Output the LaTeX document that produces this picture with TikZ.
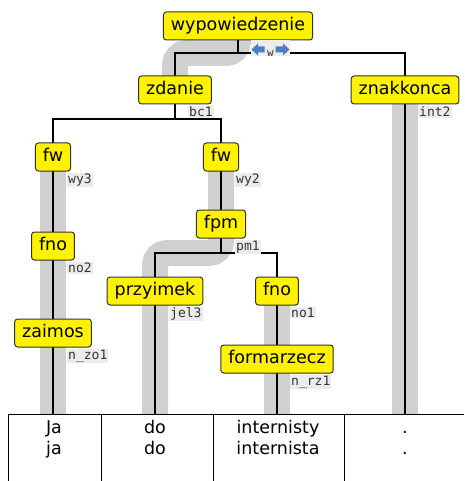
\documentclass[tikz,border=0pt]{standalone}
\usepackage{fontspec}
\setmainfont{DejaVu Sans}
\newfontfamily\labfont{DejaVu Sans Mono}
\usetikzlibrary{backgrounds}
\definecolor{band}{RGB}{208,208,208}
\definecolor{nodebd}{RGB}{50,50,50}
\definecolor{labbg}{RGB}{236,236,236}
\definecolor{labfg}{RGB}{51,51,51}
\definecolor{arrowblue}{RGB}{74,126,193}
\tikzset{
  tnode/.style={draw=nodebd, fill=yellow, rounded corners=3pt, line width=1pt,
    minimum height=28pt, inner xsep=7.5pt, inner ysep=2pt,
    font=\fontsize{17.5}{21}\selectfont, text height=12.5pt, text depth=3.5pt},
  tlab/.style={anchor=north west, fill=labbg, text=labfg, inner sep=1pt,
    font=\labfont\fontsize{13}{14}\selectfont},
  edge/.style={line width=2.2pt, black},
  headband/.style={line width=26pt, band, rounded corners=12pt},
  cell/.style={anchor=base, inner sep=0pt, font=\fontsize{17.5}{21}\selectfont},
  tabline/.style={line width=1pt, black}
}
\begin{document}
\begin{tikzpicture}[x=1pt, y=-1pt]
\useasboundingbox (0,0) rectangle (464,481);

% tree nodes
\node[tnode] (wyp) at (238,26) {wypowiedzenie};
\node[tnode] (zdanie) at (175,90) {zdanie};
\node[tnode] (znak) at (405,90) {znakkonca};
\node[tnode] (fwL) at (53,157) {fw};
\node[tnode] (fwR) at (221,157) {fw};
\node[tnode] (fpm) at (221,224) {fpm};
\node[tnode] (fnoL) at (53,246) {fno};
\node[tnode] (przy) at (155,291) {przyimek};
\node[tnode] (fnoR) at (277,291) {fno};
\node[tnode] (zaim) at (53,333) {zaimos};
\node[tnode] (form) at (277,359) {formarzecz};

% small labels
\node[tlab] (lzd) at ([xshift=13pt,yshift=-1pt]zdanie.south) {bc1};
\node[tlab] (lzn) at ([xshift=13pt,yshift=-1pt]znak.south) {int2};
\node[tlab] (lfwL) at ([xshift=14pt,yshift=-1pt]fwL.south) {wy3};
\node[tlab] (lfwR) at ([xshift=14pt,yshift=-1pt]fwR.south) {wy2};
\node[tlab] (lfpm) at ([xshift=14pt,yshift=-1pt]fpm.south) {pm1};
\node[tlab] (lfnoL) at ([xshift=14pt,yshift=-1pt]fnoL.south) {no2};
\node[tlab] (lprzy) at ([xshift=14pt,yshift=-1pt]przy.south) {jel3};
\node[tlab] (lfnoR) at ([xshift=13pt,yshift=-1pt]fnoR.south) {no1};
\node[tlab] (lzaim) at ([xshift=14pt,yshift=-1pt]zaim.south) {n\_zo1};
\node[tlab] (lform) at ([xshift=13pt,yshift=-1pt]form.south) {n\_rz1};

% icon
\node[fill=labbg, minimum width=39pt, minimum height=16pt, inner sep=0pt] (icon) at (270.5,48.5) {};
\begin{scope}[shift={(icon.center)}]
  \fill[arrowblue] (-19,1) -- (-12.5,-5) -- (-12.5,-2) -- (-6,-2) -- (-6,4) -- (-12.5,4) -- (-12.5,7) -- cycle;
  \fill[arrowblue] (19,1) -- (12.5,-5) -- (12.5,-2) -- (5,-2) -- (5,4) -- (12.5,4) -- (12.5,7) -- cycle;
  \node[inner sep=0pt, text=labfg, font=\labfont\fontsize{11}{11}\selectfont] (iconw) at (0,5) {w};
\end{scope}

% coordinates
\coordinate (b1) at (238,53);
\coordinate (b2) at (175,119);
\coordinate (b3) at (221,253);
\coordinate (t1) at (53,414);
\coordinate (t2) at (155,414);
\coordinate (t3) at (277,414);
\coordinate (t4) at (405,414);

\begin{pgfonlayer}{background}
  \draw[headband] (wyp.center) -- (b1) -- (175,53) -- (zdanie.center);
  \draw[headband] (fwL.center) -- (t1);
  \draw[headband] (fwR.center) -- (b3) -- (155,253) -- (t2);
  \draw[headband] (fnoR.center) -- (t3);
  \draw[headband] (znak.center) -- (t4);

  \draw[edge] (wyp.center) -- (b1);
  \draw[edge] (zdanie.center) |- (b1) -| (znak.center);
  \draw[edge] (zdanie.center) -- (b2);
  \draw[edge] (fwL.center) |- (b2) -| (fwR.center);
  \draw[edge] (fwL.center) -- (fnoL.center) -- (zaim.center) -- (t1);
  \draw[edge] (fwR.center) -- (fpm.center) -- (b3);
  \draw[edge] (przy.center) |- (b3) -| (fnoR.center);
  \draw[edge] (przy.center) -- (t2);
  \draw[edge] (fnoR.center) -- (form.center) -- (t3);
  \draw[edge] (znak.center) -- (t4);
\end{pgfonlayer}

% table
\draw[tabline] (8,481) -- (8,414) -- (464,414);
\draw[tabline] (101,414) -- (101,481);
\draw[tabline] (213,414) -- (213,481);
\draw[tabline] (344,414) -- (344,481);

\node[cell] (c1a) at (54,433) {Ja};
\node[cell] (c1b) at (54,454) {ja};
\node[cell] (c2a) at (155,433) {do};
\node[cell] (c2b) at (155,454) {do};
\node[cell] (c3a) at (278,433) {internisty};
\node[cell] (c3b) at (278,454) {internista};
\node[cell] (c4a) at (405,433) {.};
\node[cell] (c4b) at (405,454) {.};
\end{tikzpicture}
\end{document}
